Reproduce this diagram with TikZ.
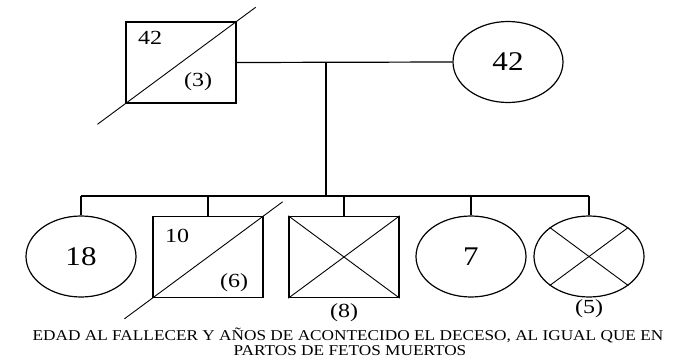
\documentclass[tikz,border=0pt]{standalone}
\usepackage{fontspec}
\setmainfont{Liberation Serif}
\usetikzlibrary{shapes.geometric,calc}
\newcommand{\wide}[2][1.2]{\scalebox{#1}[1]{#2}}
\tikzset{
	male/.style={draw, rectangle, line width=1.4pt, minimum width=110pt, minimum height=81pt, inner sep=0pt},
	female/.style={draw, ellipse, line width=1.2pt, minimum width=110pt, minimum height=81pt, inner sep=0pt, font=\fontsize{27}{30}\selectfont},
	agetext/.style={inner sep=0pt, font=\fontsize{20}{23}\selectfont},
	captext/.style={inner sep=0pt, font=\fontsize{15}{17}\selectfont},
	link/.style={line width=1.2pt},
	cross/.style={line width=0.9pt}
}
\newcommand{\pedmale}[2]{
	\node [male] (#1) at (#2) {};}
\newcommand{\pedfemale}[3]{
	\node [female] (#1) at (#2) {\wide[1.15]{#3}};}
\newcommand{\peddead}[1]{
	\draw [cross] ($(#1.south west)!-0.25!(#1.north east)$) -- ($(#1.south west)!1.17!(#1.north east)$);}

\begin{document}
\begin{tikzpicture}[x=1pt,y=-1pt]
	\useasboundingbox (0,0) rectangle (675,362);
	% parents
	\pedmale{f}{181,62.5}
	\pedfemale{m}{508,62}{42}
	\peddead{f}
	\node [agetext] (fage) at (150,38) {\wide{42}};
	\node [agetext] (fyrs) at (198,82) {\wide{(3)}};
	\draw [link] (f.east) -- (m.west);
	\coordinate (mar) at (326,62);
	\coordinate (sib) at (326,196);
	\draw [link] (mar) -- (sib);
	% children
	\pedfemale{c1}{81,256.5}{18}
	\pedmale{c2}{208,257}
	\peddead{c2}
	\node [agetext] (c2age) at (177,236) {\wide{10}};
	\node [agetext] (c2yrs) at (234,283) {\wide{(6)}};
	\pedmale{c3}{344,257}
	\draw [cross] (c3.north west) -- (c3.south east);
	\draw [cross] (c3.south west) -- (c3.north east);
	\node [agetext] (c3yrs) at (344,313) {\wide{(8)}};
	\pedfemale{c4}{471,256.5}{7}
	\pedfemale{c5}{589,256.5}{}
	\draw [cross] (c5.north west) -- (c5.south east);
	\draw [cross] (c5.south west) -- (c5.north east);
	\node [agetext] (c5yrs) at (589,309) {\wide{(5)}};
	\draw [link] (c1.north |- sib) -- (c5.north |- sib);
	\foreach \c in {c1,c2,c3,c4,c5}
		\draw [link] (\c.north |- sib) -- (\c.north);
	% caption
	\node [captext] (cap1) at (348,335) {\wide[1.15]{EDAD AL FALLECER Y AÑOS DE ACONTECIDO EL DECESO, AL IGUAL QUE EN}};
	\node [captext] (cap2) at (350,351) {\wide[1.15]{PARTOS DE FETOS MUERTOS}};
\end{tikzpicture}
\end{document}
